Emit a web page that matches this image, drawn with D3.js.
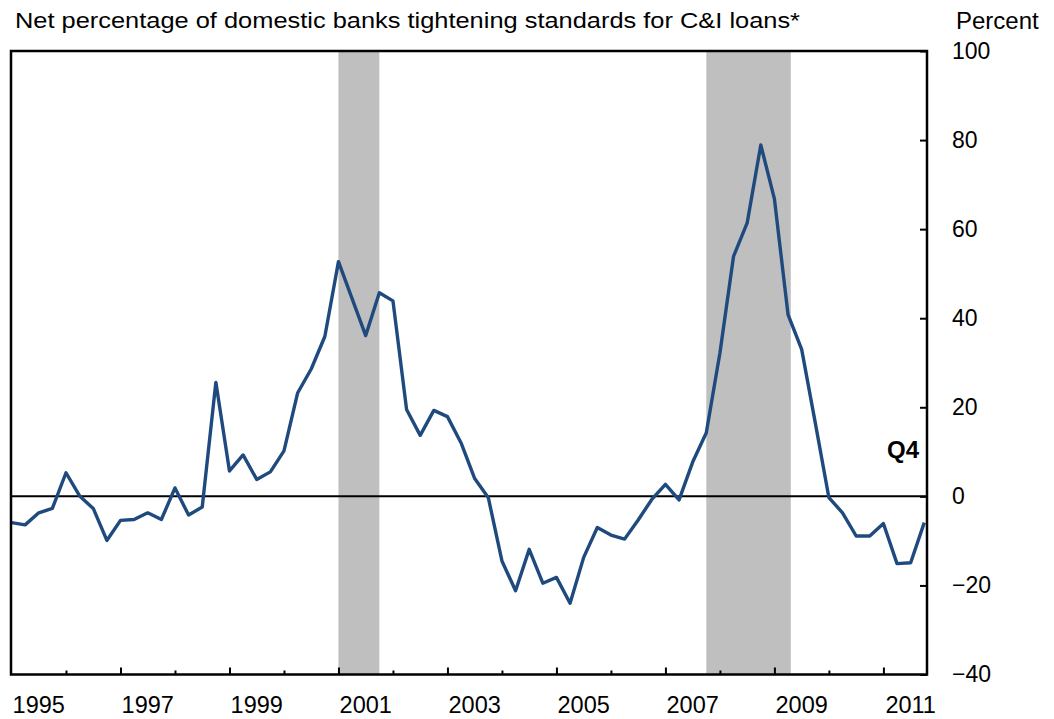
<!DOCTYPE html>
<html>
<head>
<meta charset="utf-8">
<script src="https://cdn.jsdelivr.net/npm/d3@7"></script>
<style>
  body { margin: 0; background: #fff; }
  svg { display: block; font-family: "Liberation Sans", Arial, sans-serif; }
  .axis text { fill: #000; }
</style>
</head>
<body>
<svg id="chart"></svg>
<script>
// quarterly series, first point = 1995 Q1
let startYear = 1995;
let tightening = [
  -5.9, -6.4, -3.7, -2.7,
   5.3,  0.1, -2.7, -9.9,
  -5.4, -5.2, -3.7, -5.2,
   1.9, -4.2, -2.4, 25.6,
   5.7,  9.3,  3.8,  5.5,
  10.2, 23.2, 28.6, 35.9,
  52.7, 44.4, 36.1, 45.7,
  43.9, 19.5, 13.7, 19.3,
  17.9, 12.0,  4.0, -0.3,
 -14.5, -21.2, -11.9, -19.5,
 -18.2, -24.0, -13.7, -7.0,
  -8.7, -9.6, -5.3, -0.7,
   2.7, -0.8,  7.7, 14.3,
  32.2, 53.9, 61.4, 78.9,
  66.8, 40.8, 33.0, 16.5,
  -0.3, -3.7, -8.9, -8.9,
  -6.1, -15.1, -14.9, -5.9
];

// shaded recession periods (fractional years)
let recessions = [[2001.0, 2001.75], [2007.75, 2009.3]];

let yTicks = [-40, -20, 0, 20, 40, 60, 80, 100];
let yearTicks = d3.range(1996, 2012);
let yearLabels = [1995, 1997, 1999, 2001, 2003, 2005, 2007, 2009, 2011];

let w = 1054, h = 719;
let plot = { left: 11, right: 927, top: 51, bottom: 674.5 };

let svg = d3.select("#chart")
    .attr("width", w)
    .attr("height", h);

let xScale = d3.scaleLinear()
    .domain([1995, 2011.8])
    .range([11.5, plot.right]);

let yScale = d3.scaleLinear()
    .domain([-40, 100])
    .range([plot.bottom, plot.top]);

// recession bars
svg.selectAll("rect.recession")
    .data(recessions)
    .enter()
    .append("rect")
    .attr("class", "recession")
    .attr("x", d => xScale(d[0]))
    .attr("width", d => xScale(d[1]) - xScale(d[0]))
    .attr("y", plot.top)
    .attr("height", plot.bottom - plot.top)
    .attr("fill", "#bfbfbf");

// zero line
svg.append("line")
    .attr("x1", plot.left)
    .attr("x2", plot.right)
    .attr("y1", yScale(0))
    .attr("y2", yScale(0))
    .attr("stroke", "#000")
    .attr("stroke-width", 2);

// the series
let line = d3.line()
    .x((d, i) => xScale(startYear + i / 4))
    .y(d => yScale(d));

svg.append("path")
    .datum(tightening)
    .attr("d", line)
    .attr("fill", "none")
    .attr("stroke", "#1f4a7e")
    .attr("stroke-width", 3.4)
    .attr("stroke-linejoin", "round");

// right axis, ticks pointing inwards
let yAxis = d3.axisRight(yScale)
    .tickValues(yTicks)
    .tickSize(-7)
    .tickPadding(25)
    .tickFormat(d3.format("d"));

svg.append("g")
    .attr("class", "y axis")
    .attr("transform", "translate(" + plot.right + ",0)")
    .call(yAxis)
    .call(g => g.select(".domain").remove())
    .call(g => g.selectAll("line").attr("stroke-width", 2))
    .call(g => g.selectAll("text")
        .attr("font-size", 23)
        .attr("font-family", "Liberation Sans, Arial, sans-serif")
        .attr("text-anchor", "start"));

// year ticks on the bottom, longer every other year
let majorAxis = d3.axisBottom(xScale)
    .tickValues(yearTicks.filter(d => d % 2 == 1))
    .tickSize(-7)
    .tickFormat("");

let minorAxis = d3.axisBottom(xScale)
    .tickValues(yearTicks.filter(d => d % 2 == 0))
    .tickSize(-4)
    .tickFormat("");

[majorAxis, minorAxis].forEach(ax => {
    svg.append("g")
        .attr("class", "x axis")
        .attr("transform", "translate(0," + plot.bottom + ")")
        .call(ax)
        .call(g => g.select(".domain").remove())
        .call(g => g.selectAll("line").attr("stroke-width", 2));
});

// year labels centred on the year
svg.selectAll("text.year")
    .data(yearLabels)
    .enter()
    .append("text")
    .attr("class", "year")
    .attr("x", d => xScale(d + 0.5))
    .attr("y", 713)
    .attr("text-anchor", "middle")
    .attr("font-size", 23.5)
    .text(d => d);

// frame
svg.append("rect")
    .attr("x", plot.left)
    .attr("y", plot.top)
    .attr("width", plot.right - plot.left)
    .attr("height", plot.bottom - plot.top)
    .attr("fill", "none")
    .attr("stroke", "#000")
    .attr("stroke-width", 2.5);

svg.append("text")
    .attr("x", 15)
    .attr("y", 28)
    .attr("font-size", 22)
    .attr("textLength", 785)
    .attr("lengthAdjust", "spacingAndGlyphs")
    .text("Net percentage of domestic banks tightening standards for C&I loans*");

svg.append("text")
    .attr("x", 956)
    .attr("y", 29)
    .attr("font-size", 24)
    .text("Percent");

svg.append("text")
    .attr("x", 919)
    .attr("y", 458)
    .attr("text-anchor", "end")
    .attr("font-size", 24)
    .attr("font-weight", "bold")
    .text("Q4");
</script>
</body>
</html>
